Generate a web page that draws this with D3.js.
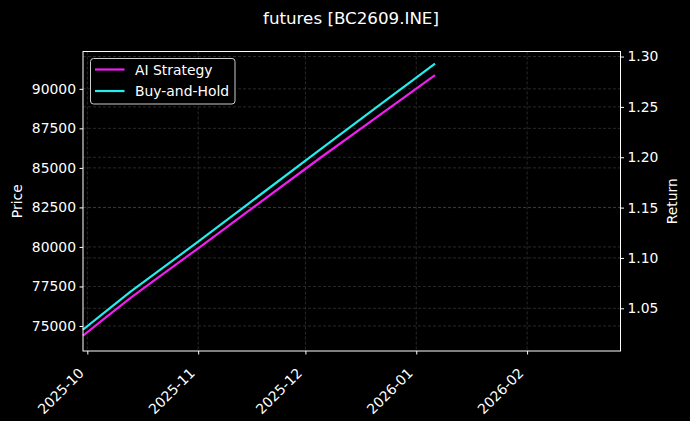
<!DOCTYPE html>
<html>
<head>
<meta charset="utf-8">
<script src="https://cdn.jsdelivr.net/npm/d3@7"></script>
<style>
  html, body { margin: 0; padding: 0; background: #000; }
  svg { display: block; font-family: "DejaVu Sans", sans-serif; }
</style>
</head>
<body>
<svg id="chart" width="690" height="421"></svg>
<script>
// ---- data ----
const title = "futures [BC2609.INE]";
const dates = ["2025-09-30", "2025-10-06", "2025-10-13", "2025-10-20", "2025-11-01", "2025-11-15", "2025-12-05", "2025-12-20", "2026-01-06"];
const aiStrategy = [1.0235, 1.0404, 1.0602, 1.0784, 1.1096, 1.1464, 1.1990, 1.2374, 1.2808];
const buyAndHold = [1.0294, 1.0464, 1.0662, 1.0846, 1.1162, 1.1537, 1.2073, 1.2472, 1.2924];
const seriesNames = ["AI Strategy", "Buy-and-Hold"];
const seriesColors = ["#f01ef0", "#26ecec"];
const priceTicks = [75000, 77500, 80000, 82500, 85000, 87500, 90000];
const returnTicks = [1.05, 1.10, 1.15, 1.20, 1.25, 1.30];
const monthTicks = ["2025-10-01", "2025-11-01", "2025-12-01", "2026-01-01", "2026-02-01"];
const priceDomain = [73418, 92361];
const returnDomain = [1.0076, 1.305];
const xDomain = [new Date(2025, 8, 29, 19), new Date(2026, 1, 27, 3)];

// ---- layout ----
const W = 690, H = 421;
const m = { left: 83, right: 620.5, top: 51.5, bottom: 351 };
const svg = d3.select("#chart");
svg.append("rect").attr("width", W).attr("height", H).attr("fill", "#000");

const parse = d3.timeParse("%Y-%m-%d");
const x = d3.scaleTime().domain(xDomain).range([m.left, m.right]);
const yL = d3.scaleLinear().domain(priceDomain).range([m.bottom, m.top]);
const yR = d3.scaleLinear().domain(returnDomain).range([m.bottom, m.top]);
const mt = monthTicks.map(parse);

// grid
const grid = svg.append("g").attr("stroke", "#444").attr("stroke-width", 0.6).attr("stroke-dasharray", "3,2").attr("fill", "none");
mt.forEach(d => grid.append("line").attr("x1", x(d)).attr("x2", x(d)).attr("y1", m.top).attr("y2", m.bottom));
priceTicks.forEach(v => grid.append("line").attr("x1", m.left).attr("x2", m.right).attr("y1", yL(v)).attr("y2", yL(v)));
returnTicks.forEach(v => grid.append("line").attr("x1", m.left).attr("x2", m.right).attr("y1", yR(v)).attr("y2", yR(v)));

// lines
const data = dates.map((d, i) => ({ date: parse(d), ai: aiStrategy[i], bh: buyAndHold[i] }));
const lineAI = d3.line().x(d => x(d.date)).y(d => yR(d.ai));
const lineBH = d3.line().x(d => x(d.date)).y(d => yR(d.bh));
svg.append("path").datum(data).attr("d", lineAI).attr("fill", "none").attr("stroke", seriesColors[0]).attr("stroke-width", 2.2).attr("stroke-linecap", "square");
svg.append("path").datum(data).attr("d", lineBH).attr("fill", "none").attr("stroke", seriesColors[1]).attr("stroke-width", 2.2).attr("stroke-linecap", "square");

// axes
const fs = "13.9px";
const axL = svg.append("g").attr("transform", `translate(${m.left},0)`)
  .call(d3.axisLeft(yL).tickValues(priceTicks).tickFormat(d3.format("d")).tickSize(3.5).tickPadding(3.5));
const axR = svg.append("g").attr("transform", `translate(${m.right},0)`)
  .call(d3.axisRight(yR).tickValues(returnTicks).tickFormat(d3.format(".2f")).tickSize(3.5).tickPadding(3.5));
const axB = svg.append("g").attr("transform", `translate(0,${m.bottom})`)
  .call(d3.axisBottom(x).tickValues(mt).tickFormat(d3.timeFormat("%Y-%m")).tickSize(3.5));
[axL, axR, axB].forEach(a => {
  a.select(".domain").remove();
  a.selectAll("line").attr("stroke", "#fff").attr("stroke-width", 1);
  a.selectAll("text").attr("fill", "#fff").style("font-size", fs).style("font-family", "DejaVu Sans");
});
axB.selectAll("text")
  .attr("text-anchor", "end")
  .attr("dy", null)
  .attr("y", 0)
  .attr("transform", "translate(-3,23) rotate(-45)");

// spines
svg.append("rect").attr("x", m.left).attr("y", m.top).attr("width", m.right - m.left).attr("height", m.bottom - m.top)
  .attr("fill", "none").attr("stroke", "#fff").attr("stroke-width", 1);

// labels
svg.append("text").attr("x", 351).attr("y", 24).attr("text-anchor", "middle").attr("fill", "#fff").style("font-size", "16.7px").text(title);
svg.append("text").attr("transform", `translate(21.5,${(m.top + m.bottom) / 2}) rotate(-90)`).attr("text-anchor", "middle")
  .attr("fill", "#fff").style("font-size", fs).text("Price");
svg.append("text").attr("transform", `translate(677,${(m.top + m.bottom) / 2}) rotate(-90)`).attr("text-anchor", "middle")
  .attr("fill", "#fff").style("font-size", fs).text("Return");

// legend
const lg = svg.append("g");
lg.append("rect").attr("x", 90.5).attr("y", 58.5).attr("width", 144.5).attr("height", 45.5).attr("rx", 3)
  .attr("fill", "#000").attr("stroke", "#cccccc").attr("stroke-width", 1);
seriesNames.forEach((n, i) => {
  const yy = 69.5 + i * 21.5;
  lg.append("line").attr("x1", 95).attr("x2", 124.5).attr("y1", yy).attr("y2", yy).attr("stroke", seriesColors[i]).attr("stroke-width", 2.2);
  lg.append("text").attr("x", 135).attr("y", yy + 5).attr("fill", "#fff").style("font-size", fs).text(n);
});
</script>
</body>
</html>
